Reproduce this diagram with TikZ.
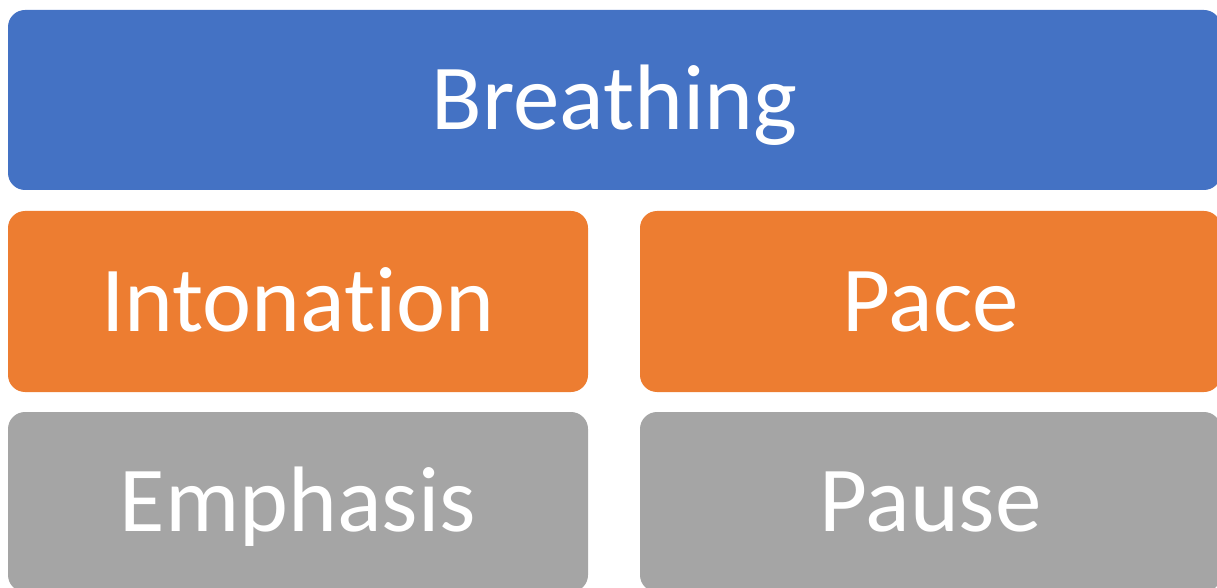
\documentclass[tikz,border=0pt]{standalone}
\usepackage{fontspec}
\setmainfont[RawFeature=-liga]{Carlito}
\definecolor{cblue}{HTML}{4472C4}
\definecolor{corange}{HTML}{ED7D31}
\definecolor{cgray}{HTML}{A5A5A5}
\tikzset{
  tile/.style={rounded corners=17pt, inner sep=0pt, text=white,
    font=\fontsize{93}{100}\selectfont, text height=59pt, text depth=0pt, align=center},
}
\begin{document}
\begin{tikzpicture}[x=1pt,y=1pt]
\useasboundingbox (0,0) rectangle (1217,587);
\clip (0,0) rectangle (1217,587);
\node[tile, fill=cblue, minimum width=1213pt, minimum height=180pt] (breathing) at (614.5,487) {Breathing};
\node[tile, fill=corange, minimum width=580pt, minimum height=181pt] (intonation) at (298,285.5) {Intonation};
\node[tile, fill=corange, minimum width=581pt, minimum height=181pt] (pace) at (930.5,285.5) {Pace};
\node[tile, fill=cgray, minimum width=580pt, minimum height=180pt] (emphasis) at (298,85) {Emphasis};
\node[tile, fill=cgray, minimum width=581pt, minimum height=180pt] (pause) at (930.5,85) {Pause};
\end{tikzpicture}
\end{document}
